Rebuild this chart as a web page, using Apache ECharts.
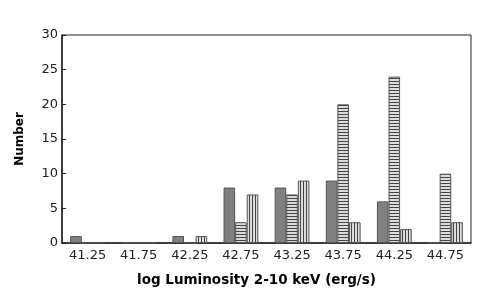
<!DOCTYPE html>
<html><head><meta charset="utf-8">
<script src="https://cdn.jsdelivr.net/npm/echarts@6/dist/echarts.min.js"></script>
<style>html,body{margin:0;padding:0;background:#fff}#c{width:491px;height:299px}</style>
</head><body><div id="c"></div>
<script>
const categories = ['41.25','41.75','42.25','42.75','43.25','43.75','44.25','44.75'];
const solidValues = [1,0,1,8,8,9,6,0];
const horizValues = [0,0,0,3,7,20,24,10];
const vertValues  = [0,0,1,7,9,3,2,3];
const yTicks = {min:0, max:30, interval:5};

function hatch(dir){
  const c = document.createElement('canvas');
  c.width = 3; c.height = 3;
  const g = c.getContext('2d');
  g.fillStyle = '#dcdcdc'; g.fillRect(0,0,3,3);
  g.fillStyle = '#444';
  if(dir==='h') g.fillRect(0,0,3,1); else g.fillRect(0,0,1,3);
  return {image:c, repeat:'repeat'};
}
const font = 'DejaVu Sans';
const chart = echarts.init(document.getElementById('c'), null, {renderer:'canvas'});
chart.setOption({
  animation:false,
  grid:{left:62, right:20, top:35, bottom:56, show:true, borderColor:'#222', borderWidth:1, backgroundColor:'transparent'},
  xAxis:{type:'category', data:categories,
    name:'log Luminosity 2-10 keV (erg/s)', nameLocation:'middle', nameGap:30,
    nameTextStyle:{fontFamily:font, fontWeight:'bold', fontSize:13.5, color:'#000', padding:[0,20,0,0]},
    axisLine:{lineStyle:{color:'#222', width:1.5}},
    axisTick:{inside:true, length:4, lineStyle:{color:'#222'}},
    axisLabel:{fontFamily:font, fontSize:13, color:'#222', margin:6}
  },
  yAxis:{type:'value', min:yTicks.min, max:yTicks.max, interval:yTicks.interval,
    name:'Number', nameLocation:'middle', nameGap:36,
    nameTextStyle:{fontFamily:font, fontWeight:'bold', fontSize:12, color:'#000'},
    axisLine:{show:true, lineStyle:{color:'#222', width:1.5}},
    axisTick:{show:true, inside:true, length:4, lineStyle:{color:'#222'}},
    splitLine:{show:false},
    axisLabel:{fontFamily:font, fontSize:13, color:'#222', margin:4}
  },
  series:[
    {type:'bar', data:solidValues, barGap:'0%', barCategoryGap:'32%',
      itemStyle:{color:'#808080', borderColor:'#555', borderWidth:1}},
    {type:'bar', data:horizValues, barGap:'0%',
      itemStyle:{color:hatch('h'), borderColor:'#555', borderWidth:1}},
    {type:'bar', data:vertValues, barGap:'0%',
      itemStyle:{color:hatch('v'), borderColor:'#555', borderWidth:1}}
  ]
});
</script></body></html>
